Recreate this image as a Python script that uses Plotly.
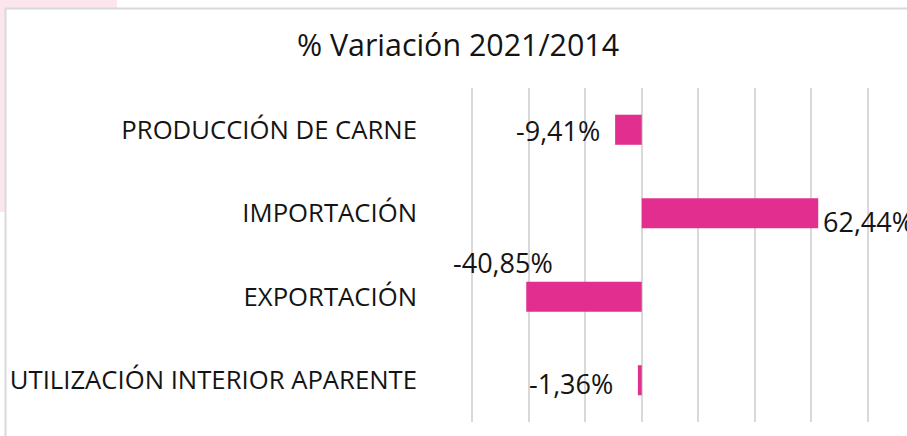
import plotly.graph_objects as go

categories = ["PRODUCCIÓN DE CARNE", "IMPORTACIÓN", "EXPORTACIÓN", "UTILIZACIÓN INTERIOR APARENTE"]
values = [-9.41, 62.44, -40.85, -1.36]
labels = ["-9,41%", "62,44%", "-40,85%", "-1,36%"]
tick_vals = [-60, -40, -20, 0, 20, 40, 60, 80]

W, H = 907, 436
L, R, T, B = 471, 869, 88, 422

FONT = "Open Sans"
TXT = "#141414"
BAR = "#E22E8E"

fig = go.Figure()
fig.add_trace(go.Bar(
    x=values, y=categories, orientation="h",
    marker=dict(color=BAR, line=dict(width=0)),
    width=0.36, hoverinfo="skip",
))

# label offsets (pixels) relative to bar end
offsets = [
    dict(xanchor="right", xshift=-13, yshift=-1),
    dict(xanchor="left", xshift=3, yshift=-8),
    dict(xanchor="center", xshift=-23, yshift=34),
    dict(xanchor="right", xshift=-23, yshift=-3),
]
for c, v, t, o in zip(categories, values, labels, offsets):
    fig.add_annotation(x=v, y=c, text=t, showarrow=False, xref="x", yref="y",
                       yanchor="middle", font=dict(family=FONT, size=27, color=TXT), **o)

# page decoration: pink corner and chart border
fig.add_shape(type="rect", xref="paper", yref="paper",
              x0=(0 - L) / (R - L), x1=(117 - L) / (R - L),
              y0=(B - 0) / (B - T), y1=(B - 8) / (B - T),
              fillcolor="#FCE6EE", line=dict(width=0), layer="below")
fig.add_shape(type="rect", xref="paper", yref="paper",
              x0=(0 - L) / (R - L), x1=(5 - L) / (R - L),
              y0=(B - 0) / (B - T), y1=(B - 212) / (B - T),
              fillcolor="#FCE6EE", line=dict(width=0), layer="below")
fig.add_shape(type="line", xref="paper", yref="paper",
              x0=(5 - L) / (R - L), x1=(920 - L) / (R - L),
              y0=(B - 8.5) / (B - T), y1=(B - 8.5) / (B - T),
              line=dict(color="#D9D9D9", width=2), layer="below")
fig.add_shape(type="line", xref="paper", yref="paper",
              x0=(5.5 - L) / (R - L), x1=(5.5 - L) / (R - L),
              y0=(B - 8) / (B - T), y1=(B - 440) / (B - T),
              line=dict(color="#D9D9D9", width=2), layer="below")

fig.update_layout(
    width=W, height=H,
    margin=dict(l=L, r=W - R, t=T, b=H - B, pad=0, autoexpand=False),
    paper_bgcolor="white", plot_bgcolor="white",
    showlegend=False,
    bargap=0.64,
    title=dict(text="% Variación 2021/2014", x=458 / W, xref="container", xanchor="center",
               y=1 - 45 / H, yref="container", yanchor="middle",
               font=dict(family=FONT, size=30.4, color=TXT)),
    xaxis=dict(range=[-60.4, 80.4], tickvals=tick_vals, showticklabels=False,
               showgrid=True, gridcolor="#D9D9D9", gridwidth=1.6,
               zeroline=True, zerolinecolor="#D9D9D9", zerolinewidth=1.6,
               showline=False, fixedrange=True, automargin=False),
    yaxis=dict(categoryorder="array", categoryarray=categories, autorange="reversed",
               showgrid=False, zeroline=False, showline=False, automargin=False,
               ticks="", ticklabelstandoff=53,
               tickfont=dict(family=FONT, size=25.7, color=TXT)),
)

fig.write_html("out.html")
